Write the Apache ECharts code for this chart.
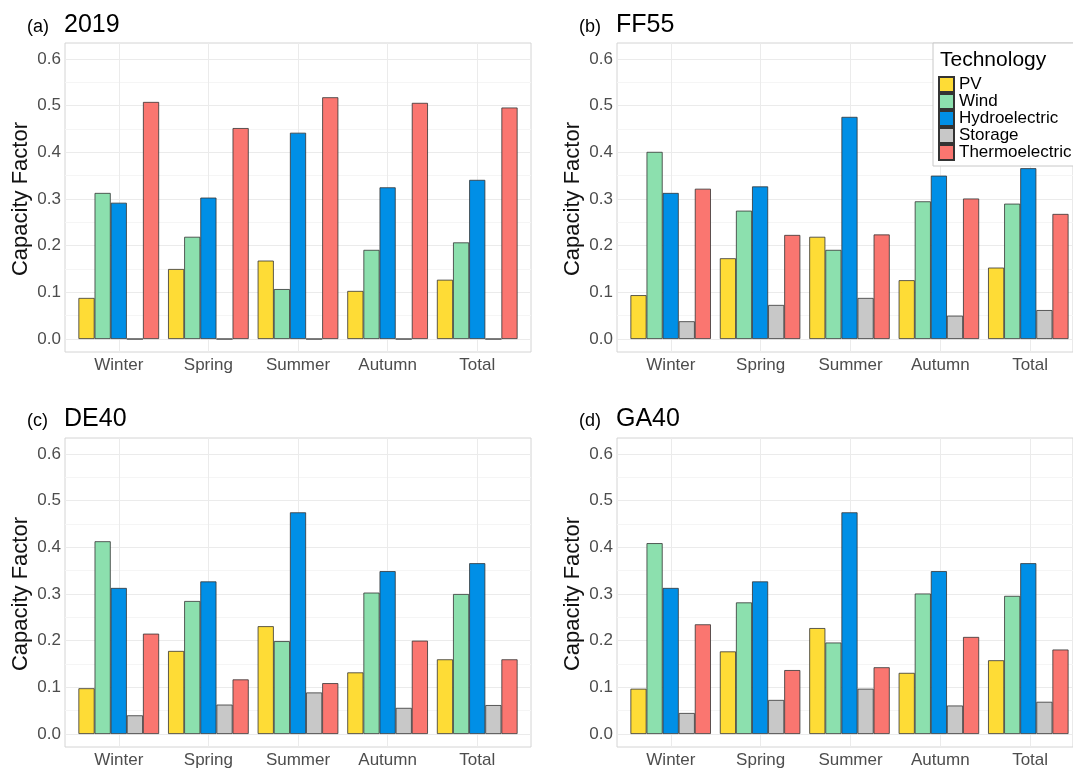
<!DOCTYPE html>
<html>
<head>
<meta charset="utf-8">
<title>Capacity factors by season and technology</title>
<script src="https://cdn.jsdelivr.net/npm/echarts@6/dist/echarts.min.js"></script>
<style>
  html, body { margin: 0; padding: 0; background: #ffffff; }
  #chart { width: 1073px; height: 771px; }
</style>
</head>
<body>
<div id="chart"></div>
<script>
// Seasons on the x axis and the technologies drawn in each group
const categories = ['Winter', 'Spring', 'Summer', 'Autumn', 'Total'];
const technologies = ['PV', 'Wind', 'Hydroelectric', 'Storage', 'Thermoelectric'];

// Capacity factor, scenario 2019
const s2019_PV      = [0.088, 0.150, 0.168, 0.103, 0.127];
const s2019_Wind    = [0.313, 0.219, 0.107, 0.191, 0.207];
const s2019_Hydro   = [0.292, 0.303, 0.442, 0.325, 0.341];
const s2019_Storage = [0, 0, 0, 0, 0];
const s2019_Thermo  = [0.508, 0.452, 0.518, 0.506, 0.496];

// Scenario FF55
const ff55_PV      = [0.094, 0.173, 0.219, 0.126, 0.153];
const ff55_Wind    = [0.401, 0.275, 0.191, 0.295, 0.290];
const ff55_Hydro   = [0.313, 0.327, 0.476, 0.350, 0.366];
const ff55_Storage = [0.038, 0.073, 0.088, 0.050, 0.062];
const ff55_Thermo  = [0.322, 0.223, 0.224, 0.301, 0.268];

// Scenario DE40
const de40_PV      = [0.098, 0.178, 0.231, 0.132, 0.160];
const de40_Wind    = [0.413, 0.285, 0.199, 0.303, 0.300];
const de40_Hydro   = [0.313, 0.327, 0.475, 0.349, 0.366];
const de40_Storage = [0.040, 0.063, 0.089, 0.056, 0.062];
const de40_Thermo  = [0.215, 0.117, 0.109, 0.200, 0.160];

// Scenario GA40
const ga40_PV      = [0.097, 0.177, 0.227, 0.131, 0.158];
const ga40_Wind    = [0.409, 0.282, 0.196, 0.301, 0.296];
const ga40_Hydro   = [0.313, 0.327, 0.475, 0.349, 0.366];
const ga40_Storage = [0.045, 0.073, 0.097, 0.061, 0.069];
const ga40_Thermo  = [0.235, 0.137, 0.143, 0.208, 0.181];

// Value axis range and step of the labelled ticks
const yMin = 0;
const yMax = 0.6;
const yStep = 0.1;

const techColors = ['#FEDC36', '#8CE0AE', '#008FE6', '#C8C8C8', '#FA7670'];
const FONT = 'Liberation Sans, Arial, Helvetica, sans-serif';

// Panel frames: plot rectangle plus pixel rows of the 0 and 0.6 gridlines
const panels = [
  { tag: '(a)', name: '2019', values: [s2019_PV, s2019_Wind, s2019_Hydro, s2019_Storage, s2019_Thermo],
    left: 65, width: 466, top: 43, bottom: 352, yHigh: 59, yZero: 339, titleBase: 33 },
  { tag: '(b)', name: 'FF55', values: [ff55_PV, ff55_Wind, ff55_Hydro, ff55_Storage, ff55_Thermo],
    left: 617, width: 467, top: 43, bottom: 352, yHigh: 59, yZero: 339, titleBase: 33 },
  { tag: '(c)', name: 'DE40', values: [de40_PV, de40_Wind, de40_Hydro, de40_Storage, de40_Thermo],
    left: 65, width: 466, top: 438, bottom: 747, yHigh: 454, yZero: 734, titleBase: 427 },
  { tag: '(d)', name: 'GA40', values: [ga40_PV, ga40_Wind, ga40_Hydro, ga40_Storage, ga40_Thermo],
    left: 617, width: 467, top: 438, bottom: 747, yHigh: 454, yZero: 734, titleBase: 427 }
];

const grids = [], xAxes = [], yAxes = [], series = [], titles = [];

panels.forEach(function (p, k) {
  // discrete scale: 5 categories plus 0.6 padding on each side
  const unit = p.width / 5.2;
  const base = k * 4;

  // frame
  grids.push({ left: p.left, top: p.top, width: p.width, height: p.bottom - p.top,
               show: true, borderColor: '#d4d4d4', borderWidth: 1, backgroundColor: 'transparent' });
  xAxes.push({ type: 'value', gridIndex: base, show: false });
  yAxes.push({ type: 'value', gridIndex: base, show: false });

  // vertical gridlines through category centres + season labels
  grids.push({ left: p.left + 0.6 * unit, top: p.top, width: 4 * unit, height: p.bottom - p.top });
  xAxes.push({
    type: 'category', gridIndex: base + 1, data: categories, boundaryGap: false,
    axisLine: { show: false }, axisTick: { show: false },
    splitLine: { show: true, lineStyle: { color: '#ebebeb', width: 1 } },
    axisLabel: { fontSize: 17, color: '#4d4d4d', margin: 5, fontFamily: FONT }
  });
  yAxes.push({ type: 'value', gridIndex: base + 1, show: false });

  // horizontal gridlines + value labels + axis title
  grids.push({ left: p.left, top: p.yHigh, width: p.width, height: p.yZero - p.yHigh });
  xAxes.push({ type: 'value', gridIndex: base + 2, show: false });
  yAxes.push({
    type: 'value', gridIndex: base + 2, min: yMin, max: yMax, interval: yStep,
    axisLine: { show: false }, axisTick: { show: false },
    axisLabel: { formatter: function (v) { return v.toFixed(1); },
                 fontSize: 17, color: '#4d4d4d', margin: 4, fontFamily: FONT },
    splitLine: { show: true, lineStyle: { color: '#ebebeb', width: 1 } },
    minorTick: { show: false, splitNumber: 2 },
    minorSplitLine: { show: true, lineStyle: { color: '#f5f5f5', width: 1 } },
    name: 'Capacity Factor', nameLocation: 'middle', nameGap: 33,
    nameTextStyle: { fontSize: 22, color: '#111', fontFamily: FONT }
  });

  // bars: groups are 0.9 of a category wide
  grids.push({ left: p.left + 0.1 * unit, top: p.yHigh, width: 5 * unit, height: p.yZero - p.yHigh });
  xAxes.push({ type: 'category', gridIndex: base + 3, data: categories, show: false });
  yAxes.push({ type: 'value', gridIndex: base + 3, min: yMin, max: yMax, show: false });

  technologies.forEach(function (tech, t) {
    series.push({
      type: 'bar', name: tech, xAxisIndex: base + 3, yAxisIndex: base + 3,
      data: p.values[t], barGap: '0%', barCategoryGap: '10%',
      itemStyle: { color: techColors[t], borderColor: '#333333', borderWidth: 0.8 },
      emphasis: { disabled: true }
    });
  });

  titles.push({ text: p.tag, left: p.left - 38, top: p.titleBase - 0.81 * 18, padding: 0,
                textStyle: { fontSize: 18, fontWeight: 'normal', color: '#000', fontFamily: FONT } });
  titles.push({ text: p.name, left: p.left - 1, top: p.titleBase - 0.81 * 25, padding: 0,
                textStyle: { fontSize: 25, fontWeight: 'normal', color: '#000', fontFamily: FONT } });
});

titles.push({ text: 'Technology', left: 940, top: 50, padding: 0,
              textStyle: { fontSize: 21, fontWeight: 'normal', color: '#000', fontFamily: FONT } });

const chart = echarts.init(document.getElementById('chart'), null, { renderer: 'canvas' });
chart.setOption({
  animation: false,
  backgroundColor: '#ffffff',
  title: titles,
  grid: grids,
  xAxis: xAxes,
  yAxis: yAxes,
  legend: {
    data: technologies, orient: 'vertical', left: 933, top: 43,
    padding: [33, 40, 5, 5], itemWidth: 15, itemHeight: 15, itemGap: 0,
    icon: 'rect', selectedMode: false,
    backgroundColor: '#ffffff', borderColor: '#c8c8c8', borderWidth: 1,
    textStyle: { fontSize: 17, color: '#000', fontFamily: FONT, lineHeight: 16.8 }
  },
  series: series
});
</script>
</body>
</html>
